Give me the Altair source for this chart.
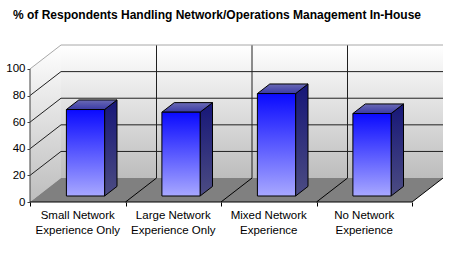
import altair as alt
import pandas as pd

# ---- data ----
categories = ["Small Network\nExperience Only", "Large Network\nExperience Only",
              "Mixed Network\nExperience", "No Network\nExperience"]
values = [65, 63, 77, 62]
y_ticks = [0, 20, 40, 60, 80, 100]
title_text = "% of Respondents Handling Network/Operations Management In-House"

# ---- 3-D geometry (style constants) ----
N = len(categories)
YMAX = 100
DX = 31 / 95.5      # depth offset in category units
DY = 18.0           # depth offset in value units
BAR_W = 0.4         # bar width as fraction of a category
F0 = 0.25           # front of bar as fraction of the depth
G = 0.4             # bar depth as fraction of the depth
W, H = 413, 157
FONT = "Liberation Sans"

xs = alt.Scale(domain=[0, N + DX], nice=False, zero=False)
ys = alt.Scale(domain=[0, YMAX + DY], nice=False, zero=False)

X_AXIS = alt.Axis(values=list(range(N + 1)), labels=False, domain=False, grid=False,
                  ticks=True, tickSize=4, tickColor="#000000", title=None)
Y_AXIS = alt.Axis(values=y_ticks, domain=False, grid=False, ticks=True, tickSize=3,
                  tickColor="#404040", labelPadding=2, labelFont=FONT, labelFontSize=11.5,
                  labelColor="#000000", title=None)


def X(f):
    return alt.X(f, type="quantitative", scale=xs, axis=X_AXIS)


def Y(f):
    return alt.Y(f, type="quantitative", scale=ys, axis=Y_AXIS)


def grad(top, bottom):
    return alt.LinearGradient(
        gradient="linear",
        stops=[alt.GradientStop(color=top, offset=0), alt.GradientStop(color=bottom, offset=1)],
        x1=0, x2=0, y1=0, y2=1)


# ---- walls and floor ----
back = pd.DataFrame({"x0": [DX], "x1": [N + DX], "y0": [DY], "y1": [YMAX + DY]})
back_wall = alt.Chart(back).mark_rect(color=grad("#ffffff", "#bdbdbd")).encode(
    x=X("x0"), x2="x1", y=Y("y0"), y2="y1")

left = pd.DataFrame({"x": [0, DX], "yt": [YMAX, YMAX + DY], "yb": [0, DY]})
left_wall = alt.Chart(left).mark_area(color=grad("#ffffff", "#bdbdbd")).encode(
    x=X("x"), y=Y("yt"), y2="yb")

floor_df = pd.DataFrame({"y": [0, DY], "xa": [0, DX], "xb": [N, N + DX]})
floor = alt.Chart(floor_df).mark_area(orient="horizontal", color="#808080").encode(
    y=Y("y"), x=X("xa"), x2="xb")

# ---- grid lines ----
inner = [v for v in y_ticks if 0 < v < YMAX]
hgrid = pd.DataFrame({"x0": DX, "x1": N + DX, "y": [v + DY for v in inner]})
hgrid_l = alt.Chart(hgrid).mark_rule(color="#202020", strokeWidth=1).encode(
    x=X("x0"), x2="x1", y=Y("y"))

vgrid = pd.DataFrame({"x": [k + DX for k in range(1, N)], "y0": DY, "y1": YMAX + DY})
vgrid_l = alt.Chart(vgrid).mark_rule(color="#202020", strokeWidth=1).encode(
    x=X("x"), y=Y("y0"), y2="y1")

ldiag = pd.DataFrame({"x0": 0, "x1": DX, "y0": inner, "y1": [v + DY for v in inner]})
ldiag_l = alt.Chart(ldiag).mark_rule(color="#202020", strokeWidth=1).encode(
    x=X("x0"), x2="x1", y=Y("y0"), y2="y1")

fdiag = pd.DataFrame({"x0": list(range(1, N + 1)), "x1": [k + DX for k in range(1, N + 1)],
                      "y0": 0, "y1": DY})
fdiag_l = alt.Chart(fdiag).mark_rule(color="#000000", strokeWidth=1).encode(
    x=X("x0"), x2="x1", y=Y("y0"), y2="y1")

# light top edges of the walls
top_edge = pd.DataFrame({"x0": [0, DX], "x1": [DX, N + DX], "y0": [YMAX, YMAX + DY],
                         "y1": [YMAX + DY, YMAX + DY]})
top_edge_l = alt.Chart(top_edge).mark_rule(color="#a8a8a8", strokeWidth=1).encode(
    x=X("x0"), x2="x1", y=Y("y0"), y2="y1")

# front axis lines
yline = pd.DataFrame({"x0": [0], "y0": [0], "y1": [YMAX]})
yaxis_l = alt.Chart(yline).mark_rule(color="#404040", strokeWidth=1).encode(
    x=X("x0"), y=Y("y0"), y2="y1")
xline = pd.DataFrame({"x0": [0], "x1": [N], "y0": [0]})
xaxis_l = alt.Chart(xline).mark_rule(color="#000000", strokeWidth=1).encode(
    x=X("x0"), x2="x1", y=Y("y0"))

# ---- bars ----
front_rows, side_rows, top_rows = [], [], []
for i, (c, v) in enumerate(zip(categories, values)):
    xl = i + 0.5 - BAR_W / 2
    xr = i + 0.5 + BAR_W / 2
    f1 = F0 + G
    front_rows.append({"cat": c, "xl": xl + F0 * DX, "xr": xr + F0 * DX,
                       "yb": F0 * DY, "yt": v + F0 * DY})
    for f in (F0, f1):
        side_rows.append({"cat": c, "x": xr + f * DX, "yt": v + f * DY, "yb": f * DY})
        top_rows.append({"cat": c, "y": v + f * DY, "xa": xl + f * DX, "xb": xr + f * DX})

front = alt.Chart(pd.DataFrame(front_rows)).mark_rect(
    color=grad("#0a0aff", "#a8a8ff"), stroke="#000000", strokeWidth=1).encode(
    x=X("xl"), x2="xr", y=Y("yt"), y2="yb")

side = alt.Chart(pd.DataFrame(side_rows)).mark_area(
    color=grad("#161678", "#4c4c82"), stroke="#000000", strokeWidth=1).encode(
    x=X("x"), y=Y("yt"), y2="yb", detail="cat:N")

top = alt.Chart(pd.DataFrame(top_rows)).mark_area(
    orient="horizontal", color=grad("#6a6ab4", "#3a3aa6"), stroke="#000000",
    strokeWidth=1).encode(
    y=Y("y"), x=X("xa"), x2="xb", detail="cat:N")

# ---- category labels ----
labels = pd.DataFrame({"cat": categories, "xc": [i + 0.5 for i in range(N)]})
label_l = alt.Chart(labels).mark_text(
    baseline="top", align="center", lineBreak="\n", lineHeight=15, fontSize=11.5,
    font=FONT, color="#000000").encode(
    x=X("xc"), y=alt.value(H + 8), text="cat:N")

chart = alt.layer(
    back_wall, left_wall, floor, hgrid_l, vgrid_l, ldiag_l, fdiag_l, top_edge_l,
    yaxis_l, xaxis_l, side, top, front, label_l
).properties(
    width=W, height=H,
    autosize=alt.AutoSizeParams(type="none"),
    padding={"left": 30, "top": 45, "right": 7, "bottom": 54},
    title=alt.TitleParams(text=title_text, anchor="start", frame="group", dx=-17, offset=23,
                          font=FONT, fontSize=12, fontWeight="bold", color="#000000"),
    background="#ffffff",
).configure_view(stroke=None)

chart.save("out.html", embed_options={"renderer": "svg", "actions": False})
